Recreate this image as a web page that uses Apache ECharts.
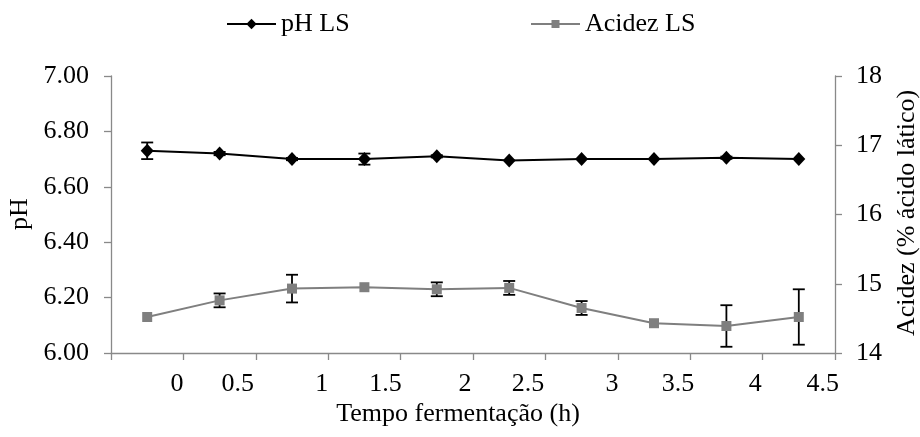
<!DOCTYPE html>
<html>
<head>
<meta charset="utf-8">
<script src="https://cdn.jsdelivr.net/npm/echarts@6/dist/echarts.min.js"></script>
<style>
  html, body { margin: 0; padding: 0; background: #fff; }
  #chart { width: 920px; height: 437px; }
</style>
</head>
<body>
<div id="chart"></div>
<script>
// Sampling slots along the fermentation
const sampleSlots = ['1', '2', '3', '4', '5', '6', '7', '8', '9', '10'];
// Time labels printed under the axis (h)
const timeTickLabels = ['0', '0.5', '1', '1.5', '2', '2.5', '3', '3.5', '4', '4.5'];

// pH LS: mean and deviation
const phValues = [6.73, 6.72, 6.70, 6.70, 6.71, 6.695, 6.70, 6.70, 6.705, 6.70];
const phErrors = [0.03, 0.006, 0.004, 0.02, 0.004, 0, 0, 0, 0.004, 0];

// Acidez LS (% ácido lático): mean and deviation
const acidezValues = [14.52, 14.76, 14.93, 14.95, 14.92, 14.94, 14.65, 14.43, 14.39, 14.52];
const acidezErrors = [0, 0.1, 0.2, 0, 0.1, 0.1, 0.1, 0, 0.3, 0.4];

// Left axis (pH) and right axis (acidez) ranges
const phAxis = { min: 6, max: 7, step: 0.2 };
const acidezAxis = { min: 14, max: 18, step: 1 };

// Where the time labels sit, in slot widths from the left edge of the plot
const timeLabelSlots = [0.91, 1.75, 2.91, 3.79, 4.89, 5.76, 6.92, 7.83, 8.9, 9.83];

const FONT = '"Liberation Serif", "Times New Roman", serif';
const AXIS_GRAY = '#898989';
const FS = 26;

function errorBars(values, errors, yAxisIndex) {
  return {
    type: 'custom',
    xAxisIndex: 0,
    yAxisIndex: yAxisIndex,
    z: 1,
    silent: true,
    data: values.map((v, i) => [i, v - errors[i], v + errors[i]]),
    renderItem: function (params, api) {
      if (api.value(2) - api.value(1) <= 0) return null;
      const lo = api.coord([api.value(0), api.value(1)]);
      const hi = api.coord([api.value(0), api.value(2)]);
      const w = 6;
      const style = { stroke: '#000', lineWidth: 1.8 };
      return {
        type: 'group',
        children: [
          { type: 'line', shape: { x1: lo[0], y1: lo[1], x2: hi[0], y2: hi[1] }, style: style },
          { type: 'line', shape: { x1: hi[0] - w, y1: hi[1], x2: hi[0] + w, y2: hi[1] }, style: style },
          { type: 'line', shape: { x1: lo[0] - w, y1: lo[1], x2: lo[0] + w, y2: lo[1] }, style: style }
        ]
      };
    }
  };
}

function nearestLabel(v) {
  let best = 0;
  for (let i = 1; i < timeLabelSlots.length; i++) {
    if (Math.abs(timeLabelSlots[i] - v) < Math.abs(timeLabelSlots[best] - v)) best = i;
  }
  return timeTickLabels[best];
}

const chart = echarts.init(document.getElementById('chart'), null, { renderer: 'canvas' });

const legendText = { fontFamily: FONT, fontSize: FS, color: '#000' };

const option = {
  backgroundColor: '#fff',
  animation: false,
  textStyle: { fontFamily: FONT },
  grid: { left: 111, right: 85, top: 76, bottom: 84, containLabel: false },
  legend: [
    {
      data: ['pH LS'],
      left: 226, top: 11, padding: 0,
      itemWidth: 49, itemHeight: 13,
      textStyle: legendText
    },
    {
      data: ['Acidez LS'],
      left: 530, top: 11, padding: 0,
      itemWidth: 49, itemHeight: 10,
      textStyle: legendText
    }
  ],
  xAxis: [
    {
      type: 'category',
      data: sampleSlots,
      boundaryGap: true,
      position: 'bottom',
      axisLine: { show: true, lineStyle: { color: AXIS_GRAY, width: 1.3 } },
      axisTick: { show: true, interval: 0, alignWithLabel: false, length: 7, lineStyle: { color: AXIS_GRAY, width: 1.3 } },
      axisLabel: { show: false },
      splitLine: { show: false }
    },
    {
      type: 'value',
      min: 0,
      max: sampleSlots.length,
      position: 'bottom',
      axisLine: { show: false },
      axisTick: { show: false },
      splitLine: { show: false },
      axisLabel: {
        show: true,
        customValues: timeLabelSlots,
        formatter: function (v) { return nearestLabel(v); },
        margin: 18,
        fontFamily: FONT,
        fontSize: FS,
        color: '#000'
      }
    }
  ],
  yAxis: [
    {
      type: 'value',
      position: 'left',
      min: phAxis.min, max: phAxis.max, interval: phAxis.step,
      axisLine: { show: true, lineStyle: { color: AXIS_GRAY, width: 1.3 } },
      axisTick: { show: true, length: 7, lineStyle: { color: AXIS_GRAY, width: 1.3 } },
      splitLine: { show: false },
      axisLabel: {
        formatter: function (v) { return v.toFixed(2); },
        margin: 22, fontFamily: FONT, fontSize: FS, color: '#000'
      }
    },
    {
      type: 'value',
      position: 'right',
      min: acidezAxis.min, max: acidezAxis.max, interval: acidezAxis.step,
      axisLine: { show: true, lineStyle: { color: AXIS_GRAY, width: 1.3 } },
      axisTick: { show: true, length: 7, lineStyle: { color: AXIS_GRAY, width: 1.3 } },
      splitLine: { show: false },
      axisLabel: { margin: 21, fontFamily: FONT, fontSize: FS, color: '#000' }
    }
  ],
  series: [
    errorBars(phValues, phErrors, 0),
    errorBars(acidezValues, acidezErrors, 1),
    {
      name: 'pH LS',
      type: 'line',
      xAxisIndex: 0, yAxisIndex: 0,
      z: 3,
      data: phValues,
      symbol: 'diamond',
      symbolSize: [13, 14],
      itemStyle: { color: '#000' },
      lineStyle: { color: '#000', width: 2 }
    },
    {
      name: 'Acidez LS',
      type: 'line',
      xAxisIndex: 0, yAxisIndex: 1,
      z: 3,
      data: acidezValues,
      symbol: 'rect',
      symbolSize: 10,
      itemStyle: { color: '#7f7f7f' },
      lineStyle: { color: '#7f7f7f', width: 2 }
    }
  ],
  graphic: [
    {
      type: 'text', x: 20, y: 214, rotation: Math.PI / 2,
      style: { text: 'pH', font: FS + 'px ' + FONT, fill: '#000',
               textAlign: 'center', textVerticalAlign: 'middle', align: 'center', verticalAlign: 'middle' }
    },
    {
      type: 'text', x: 907, y: 213, rotation: Math.PI / 2,
      style: { text: 'Acidez (% ácido lático)', font: FS + 'px ' + FONT, fill: '#000',
               textAlign: 'center', textVerticalAlign: 'middle', align: 'center', verticalAlign: 'middle' }
    },
    {
      type: 'text', x: 458, y: 414,
      style: { text: 'Tempo fermentação (h)', font: FS + 'px ' + FONT, fill: '#000',
               textAlign: 'center', textVerticalAlign: 'middle', align: 'center', verticalAlign: 'middle' }
    }
  ]
};

chart.setOption(option);
</script>
</body>
</html>
